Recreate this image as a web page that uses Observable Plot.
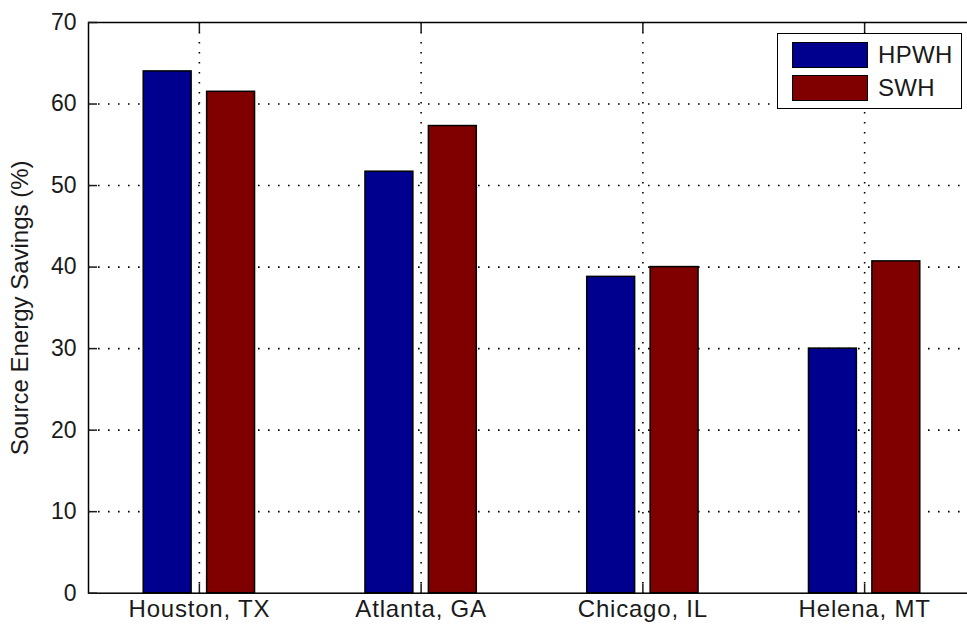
<!DOCTYPE html>
<html>
<head>
<meta charset="utf-8">
<script src="https://cdn.jsdelivr.net/npm/d3@7"></script>
<script src="https://cdn.jsdelivr.net/npm/@observablehq/plot@0.6"></script>
<style>
  html, body { margin: 0; padding: 0; background: #fff; }
  #wrap { position: relative; width: 967px; height: 627px; overflow: hidden; font-family: "Liberation Sans", Arial, sans-serif; }
  #legend { position: absolute; left: 777px; top: 33px; width: 185px; height: 76px; border: 1.5px solid #000; background: #fff; box-sizing: border-box; }
  .row { position: absolute; left: 14px; height: 26px; display: flex; align-items: center; }
  .sw { width: 76px; height: 26px; border: 1.5px solid #000; box-sizing: border-box; }
  .lab { margin-left: 10px; font-size: 24px; color: #1a1a1a; letter-spacing: 0.3px; }
  .xl text { letter-spacing: 0.8px; }
  .yl text[transform] { letter-spacing: 0.8px; }
</style>
</head>
<body>
<div id="wrap"></div>
<script>
const cities = ["Houston, TX", "Atlanta, GA", "Chicago, IL", "Helena, MT"];
const series = ["HPWH", "SWH"];
const hpwh = [64.0, 51.7, 38.8, 30.0];
const swh = [61.5, 57.3, 40.0, 40.7];
const yTicks = [0, 10, 20, 30, 40, 50, 60, 70];
const colors = ["#00008F", "#800000"];

// grouped bar layout (in category units)
const barOffset = [-0.143, 0.143];
const barWidth = 0.216;

const rows = [];
cities.forEach((c, i) => {
  rows.push({pos: i + 1, s: 0, series: series[0], value: hpwh[i]});
  rows.push({pos: i + 1, s: 1, series: series[1], value: swh[i]});
});
const cats = cities.map((c, i) => i + 1);

const dotted = {stroke: "#000", strokeWidth: 1.6, strokeDasharray: "1.6,8.4"};

const chart = Plot.plot({
  width: 967,
  height: 627,
  marginLeft: 88,
  marginTop: 22,
  marginBottom: 34.3,
  marginRight: -8,
  style: {fontFamily: "Liberation Sans, Arial, sans-serif", fontSize: "23px", color: "#1a1a1a", background: "#fff", overflow: "hidden"},
  x: {type: "linear", domain: [0.5, 4.5]},
  y: {domain: [0, 70]},
  color: {domain: series, range: colors},
  marks: [
    Plot.ruleX(cats, {x: d => d, ...dotted}),
    Plot.ruleY(yTicks.slice(1, -1), {y: d => d, ...dotted}),
    Plot.rectY(rows, {
      x1: d => d.pos + barOffset[d.s] - barWidth / 2,
      x2: d => d.pos + barOffset[d.s] + barWidth / 2,
      y1: 0, y2: "value",
      fill: "series", stroke: "#000", strokeWidth: 1.5
    }),
    Plot.frame({stroke: "#000", strokeWidth: 1.5}),
    Plot.axisY({anchor: "left", ticks: yTicks, tickSize: 0, tickPadding: 12, fontSize: 23,
      label: null}),
    Plot.axisY({anchor: "left", ticks: [], tickSize: 0, fontSize: 24, className: "yl",
      label: "Source Energy Savings (%)", labelAnchor: "center", labelArrow: "none", labelOffset: 78}),
    Plot.axisY({anchor: "left", ticks: yTicks, tickSize: -9, tickFormat: () => "", label: null, strokeWidth: 1.5}),
    Plot.axisY({anchor: "right", ticks: yTicks, tickSize: -9, tickFormat: () => "", label: null, strokeWidth: 1.5}),
    Plot.axisX({anchor: "bottom", ticks: cats, tickSize: 0, tickPadding: 7, fontSize: 24, className: "xl",
      tickFormat: d => cities[d - 1], label: null}),
    Plot.axisX({anchor: "bottom", ticks: cats, tickSize: -9, tickFormat: () => "", label: null, strokeWidth: 1.5}),
    Plot.axisX({anchor: "top", ticks: cats, tickSize: -9, tickFormat: () => "", label: null, strokeWidth: 1.5})
  ]
});

const wrap = document.getElementById("wrap");
wrap.appendChild(chart);

const legend = document.createElement("div");
legend.id = "legend";
series.forEach((s, i) => {
  const r = document.createElement("div");
  r.className = "row";
  r.style.top = (8 + i * 33) + "px";
  const sw = document.createElement("div");
  sw.className = "sw";
  sw.style.background = colors[i];
  const lab = document.createElement("span");
  lab.className = "lab";
  lab.textContent = s;
  r.appendChild(sw);
  r.appendChild(lab);
  legend.appendChild(r);
});
wrap.appendChild(legend);
</script>
</body>
</html>
